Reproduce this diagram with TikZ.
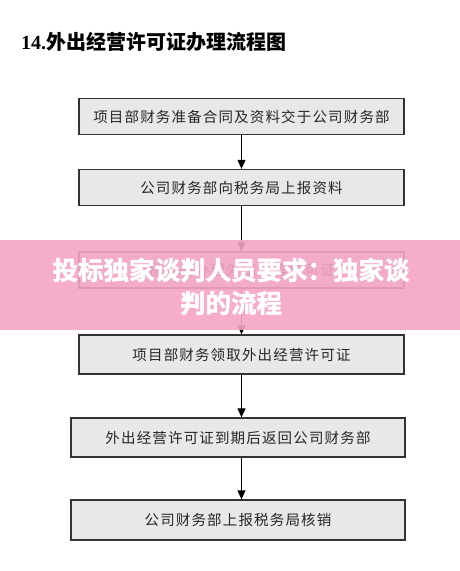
\documentclass[tikz,border=0pt]{standalone}
\usepackage{fontspec}
\setmainfont{Liberation Serif}
\newfontfamily\cjk{Noto Sans CJK SC}
\newfontfamily\cjkbox[LetterSpace=8]{Noto Sans CJK SC}
\newfontfamily\cjkheavy[FakeBold=1.8]{Noto Sans CJK SC Bold}
\usetikzlibrary{arrows.meta}
\definecolor{bannerpink}{RGB}{244,165,198}
\definecolor{boxfill}{RGB}{232,232,232}
\tikzset{
  flowbox/.style={draw=black!80, line width=1.3pt, fill=boxfill, minimum height=36pt,
    inner sep=0pt, font=\cjkbox\fontsize{14.5}{16}\selectfont, text=black!85},
  flowarrow/.style={draw=black, line width=1pt, -{Triangle[width=8pt,length=9pt]}},
}
\begin{document}
\begin{tikzpicture}[x=1pt,y=-1pt]
\useasboundingbox[fill=white] (0,0) rectangle (460,571);
% title
\node[anchor=west, inner sep=0pt, font=\bfseries\fontsize{20}{22}\selectfont] (title) at (21,42)
  {14.{\cjk\bfseries 外出经营许可证办理流程图}};
% boxes
\node[flowbox, minimum width=325pt] (b1) at (241.5,116.5) {项目部财务准备合同及资料交于公司财务部};
\node[flowbox, minimum width=325pt] (b2) at (241.5,187.5) {公司财务部向税务局上报资料};
\node[flowbox, minimum width=325pt] (b3) at (241.5,270) {税务局办理外出经营许可证};
\node[flowbox, minimum width=325pt, minimum height=39pt] (b4) at (241.5,354.5) {项目部财务领取外出经营许可证};
\node[flowbox, minimum width=334pt, minimum height=39pt] (b5) at (238,437.5) {外出经营许可证到期后返回公司财务部};
\node[flowbox, minimum width=334pt, minimum height=40pt] (b6) at (238,520) {公司财务部上报税务局核销};
% arrows
\draw[flowarrow] (b1.south) -- (b2.north);
\draw[flowarrow] (b2.south) -- (b3.north);
\draw[flowarrow] (b3.south) -- (b4.north);
\draw[flowarrow] (b4.south) -- (b4.south |- b5.north);
\draw[flowarrow] (b4.south |- b5.south) -- (b4.south |- b6.north);
% banner overlay
\fill[bannerpink, fill opacity=0.9] (0,240) rectangle (460,330);
\node[align=center, text=white, font=\cjkheavy\fontsize{25.5}{33}\selectfont] (banner) at (231,286.5)
  {投标独家谈判人员要求：独家谈\\判的流程};
\end{tikzpicture}
\end{document}
